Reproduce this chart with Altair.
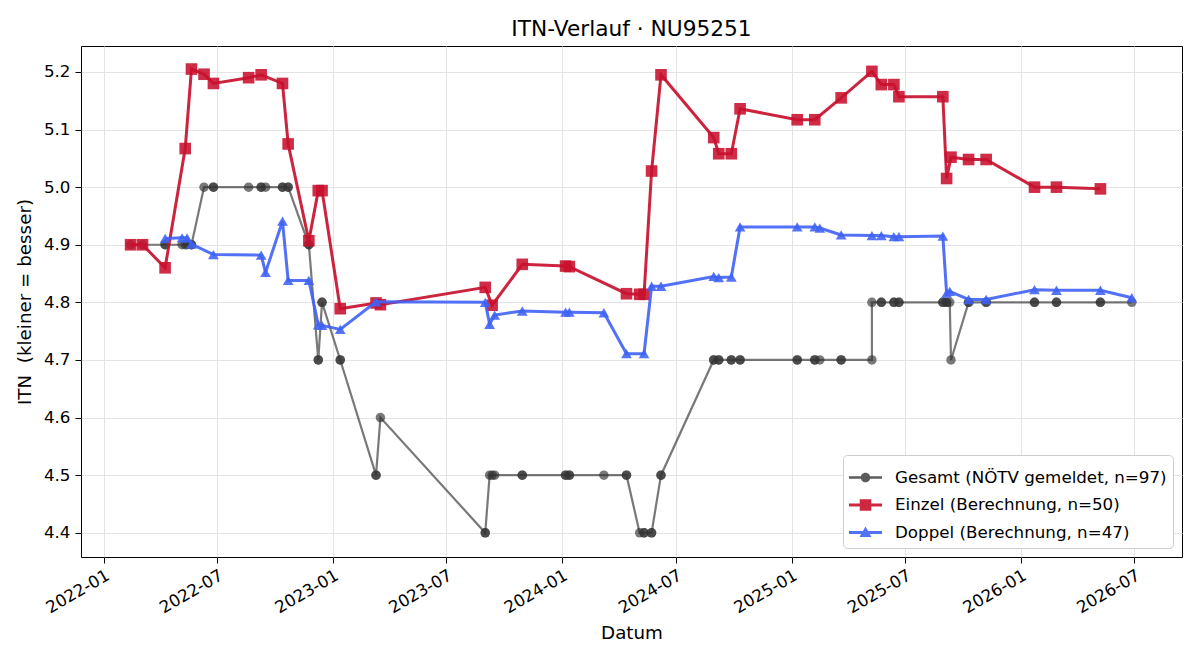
import altair as alt
import pandas as pd

# ---------------- data ----------------
einzel_dates = [
    "2022-02-13", "2022-03-04", "2022-04-09", "2022-05-11", "2022-05-21", "2022-06-10",
    "2022-06-25", "2022-08-20", "2022-09-09", "2022-10-13", "2022-10-22", "2022-11-24",
    "2022-12-09", "2022-12-15", "2023-01-13", "2023-03-11", "2023-03-18", "2023-09-01",
    "2023-09-12", "2023-10-30", "2024-01-07", "2024-01-13", "2024-04-13", "2024-05-04",
    "2024-05-11", "2024-05-23", "2024-06-07", "2024-08-30", "2024-09-07", "2024-09-27",
    "2024-10-11", "2025-01-10", "2025-02-07", "2025-03-21", "2025-05-09", "2025-05-24",
    "2025-06-13", "2025-06-21", "2025-08-30", "2025-09-05", "2025-09-12", "2025-10-10",
    "2025-11-07", "2026-01-23", "2026-02-27", "2026-05-08",
]
einzel_itn = [
    4.900, 4.900, 4.860, 5.067, 5.205, 5.196,
    5.180, 5.190, 5.195, 5.180, 5.075, 4.907,
    4.994, 4.994, 4.789, 4.799, 4.796, 4.826,
    4.795, 4.866, 4.863, 4.862, 4.815, 4.814,
    4.814, 5.028, 5.195, 5.086, 5.058, 5.058,
    5.136, 5.117, 5.117, 5.155, 5.201, 5.178,
    5.178, 5.157, 5.157, 5.015, 5.052, 5.048,
    5.048, 5.000, 5.000, 4.997,
]

doppel_dates = [
    "2022-04-09", "2022-05-06", "2022-05-14", "2022-05-21", "2022-06-25", "2022-09-09",
    "2022-09-16", "2022-10-13", "2022-10-22", "2022-11-24", "2022-12-09", "2022-12-15",
    "2023-01-13", "2023-03-11", "2023-09-01", "2023-09-08", "2023-09-16", "2023-10-30",
    "2024-01-07", "2024-01-13", "2024-03-08", "2024-04-13", "2024-05-11", "2024-05-23",
    "2024-06-07", "2024-08-30", "2024-09-07", "2024-09-27", "2024-10-11", "2025-01-10",
    "2025-02-07", "2025-02-15", "2025-03-21", "2025-05-09", "2025-05-24", "2025-06-13",
    "2025-06-21", "2025-08-30", "2025-09-05", "2025-09-10", "2025-10-10", "2025-11-07",
    "2026-01-23", "2026-02-27", "2026-05-08", "2026-06-27",
]
doppel_itn = [
    4.911, 4.912, 4.912, 4.901, 4.883, 4.882,
    4.852, 4.941, 4.838, 4.838, 4.761, 4.760,
    4.753, 4.801, 4.800, 4.762, 4.778, 4.785,
    4.783, 4.783, 4.782, 4.711, 4.711, 4.828,
    4.828, 4.845, 4.843, 4.844, 4.931, 4.931,
    4.931, 4.929, 4.917, 4.916, 4.916, 4.914,
    4.914, 4.915, 4.816, 4.819, 4.805, 4.805,
    4.822, 4.821, 4.821, 4.808,
]

gesamt_dates = [
    "2022-02-13", "2022-03-04", "2022-04-09", "2022-04-09", "2022-05-06", "2022-05-11",
    "2022-05-14", "2022-05-21", "2022-05-21", "2022-06-10", "2022-06-25", "2022-06-25",
    "2022-08-20", "2022-09-09", "2022-09-09", "2022-09-16", "2022-10-13", "2022-10-13",
    "2022-10-22", "2022-10-22", "2022-11-24", "2022-11-24", "2022-12-09", "2022-12-09",
    "2022-12-15", "2022-12-15", "2023-01-13", "2023-01-13", "2023-03-11", "2023-03-11",
    "2023-03-18", "2023-09-01", "2023-09-01", "2023-09-08", "2023-09-12", "2023-09-16",
    "2023-10-30", "2023-10-30", "2024-01-07", "2024-01-07", "2024-01-13", "2024-01-13",
    "2024-03-08", "2024-04-13", "2024-04-13", "2024-05-04", "2024-05-11", "2024-05-11",
    "2024-05-23", "2024-05-23", "2024-06-07", "2024-06-07", "2024-08-30", "2024-08-30",
    "2024-09-07", "2024-09-07", "2024-09-27", "2024-09-27", "2024-10-11", "2024-10-11",
    "2025-01-10", "2025-01-10", "2025-02-07", "2025-02-07", "2025-02-15", "2025-03-21",
    "2025-03-21", "2025-05-09", "2025-05-09", "2025-05-24", "2025-05-24", "2025-06-13",
    "2025-06-13", "2025-06-21", "2025-06-21", "2025-08-30", "2025-08-30", "2025-09-05",
    "2025-09-05", "2025-09-10", "2025-09-12", "2025-10-10", "2025-10-10", "2025-11-07",
    "2025-11-07", "2026-01-23", "2026-01-23", "2026-02-27", "2026-02-27", "2026-05-08",
    "2026-05-08", "2026-06-27",
]
gesamt_itn = [
    4.9, 4.9, 4.9, 4.9, 4.9, 4.9,
    4.9, 4.9, 4.9, 5.0, 5.0, 5.0,
    5.0, 5.0, 5.0, 5.0, 5.0, 5.0,
    5.0, 5.0, 4.9, 4.9, 4.7, 4.7,
    4.8, 4.8, 4.7, 4.7, 4.5, 4.5,
    4.6, 4.4, 4.4, 4.5, 4.5, 4.5,
    4.5, 4.5, 4.5, 4.5, 4.5, 4.5,
    4.5, 4.5, 4.5, 4.4, 4.4, 4.4,
    4.4, 4.4, 4.5, 4.5, 4.7, 4.7,
    4.7, 4.7, 4.7, 4.7, 4.7, 4.7,
    4.7, 4.7, 4.7, 4.7, 4.7, 4.7,
    4.7, 4.7, 4.8, 4.8, 4.8, 4.8,
    4.8, 4.8, 4.8, 4.8, 4.8, 4.8,
    4.8, 4.8, 4.7, 4.8, 4.8, 4.8,
    4.8, 4.8, 4.8, 4.8, 4.8, 4.8,
    4.8, 4.8,
]

series_names = [
    "Gesamt (NÖTV gemeldet, n=97)",
    "Einzel (Berechnung, n=50)",
    "Doppel (Berechnung, n=47)",
]
series_colors = ["#333333", "#C8102E", "#3F62F5"]
legend_colors = ["#4a4a4a", "#C8102E", "#3F62F5"]

x_tick_dates = [
    "2022-01-01", "2022-07-01", "2023-01-01", "2023-07-01", "2024-01-01",
    "2024-07-01", "2025-01-01", "2025-07-01", "2026-01-01", "2026-07-01",
]
x_domain = ["2021-11-26", "2026-09-15"]
y_ticks = [4.4, 4.5, 4.6, 4.7, 4.8, 4.9, 5.0, 5.1, 5.2]
y_domain = [4.358, 5.245]

FONT = "DejaVu Sans"
FS_TICK = 16.7
FS_LABEL = 18.3
FS_TITLE = 21.7


def dt(s):
    y, m, d = (int(v) for v in s.split("-"))
    return alt.DateTime(year=y, month=m, date=d, utc=True)


df_g = pd.DataFrame({"Datum": gesamt_dates, "ITN": gesamt_itn, "idx": list(range(len(gesamt_dates)))})
df_e = pd.DataFrame({"Datum": einzel_dates, "ITN": einzel_itn, "idx": list(range(len(einzel_dates)))})
df_d = pd.DataFrame({"Datum": doppel_dates, "ITN": doppel_itn, "idx": list(range(len(doppel_dates)))})
df_leg = pd.DataFrame({"Serie": series_names, "Datum": [gesamt_dates[0]] * 3, "ITN": [gesamt_itn[0]] * 3})

x_enc = alt.X(
    "Datum:T",
    scale=alt.Scale(type="utc", domain=[dt(x_domain[0]), dt(x_domain[1])], nice=False),
    axis=alt.Axis(
        values=[dt(s) for s in x_tick_dates],
        labelExpr="utcFormat(datum.value, '%Y-%m')",
        labelAngle=-30,
        labelAlign="right",
        labelBaseline="top",
        labelFlush=False,
        labelOverlap=False,
        labelPadding=4,
        labelFont=FONT,
        labelFontSize=FS_TICK,
        labelColor="black",
        tickSize=6,
        tickColor="black",
        tickWidth=1,
        domain=False,
        grid=True,
        gridColor="#e4e4e4",
        gridWidth=1,
        title="Datum",
        titleFont=FONT,
        titleFontSize=FS_LABEL,
        titleFontWeight="normal",
        titleColor="black",
        titleY=76,
        titleBaseline="middle",
    ),
)
y_enc = alt.Y(
    "ITN:Q",
    scale=alt.Scale(domain=y_domain, nice=False, zero=False),
    axis=alt.Axis(
        values=y_ticks,
        format=".1f",
        labelFont=FONT,
        labelFontSize=FS_TICK,
        labelColor="black",
        labelPadding=5,
        tickSize=6,
        tickColor="black",
        tickWidth=1,
        domain=False,
        grid=True,
        gridColor="#e4e4e4",
        gridWidth=1,
        title="ITN \u00a0(kleiner = besser)",
        titleFont=FONT,
        titleFontSize=FS_LABEL,
        titleFontWeight="normal",
        titleColor="black",
        titleX=-56,
        titleY=255.5,
        titleAlign="center",
        titleBaseline="middle",
    ),
)

g_line = alt.Chart(df_g).mark_line(color=series_colors[0], strokeWidth=2.2, opacity=0.66).encode(
    x=x_enc, y=y_enc, order="idx:Q")
g_pts = alt.Chart(df_g).mark_point(filled=True, shape="circle", size=90, color=series_colors[0],
                                    opacity=0.66, strokeWidth=0).encode(x=x_enc, y=y_enc)

e_line = alt.Chart(df_e).mark_line(color=series_colors[1], strokeWidth=3, opacity=0.92).encode(
    x=x_enc, y=y_enc, order="idx:Q")
e_pts = alt.Chart(df_e).mark_point(filled=True, shape="square", size=135, color=series_colors[1],
                                    opacity=0.88, strokeWidth=0).encode(x=x_enc, y=y_enc)

d_line = alt.Chart(df_d).mark_line(color=series_colors[2], strokeWidth=3, opacity=0.9).encode(
    x=x_enc, y=y_enc, order="idx:Q")
d_pts = alt.Chart(df_d).mark_point(filled=True, shape="triangle-up", size=115, color=series_colors[2],
                                    opacity=0.88, strokeWidth=0).encode(x=x_enc, y=y_enc)

legend_shapes = [
    "M-1,-0.07H1V0.07H-1Z M-0.29,0A0.29,0.29,0,1,1,0.29,0A0.29,0.29,0,1,1,-0.29,0Z",
    "M-1,-0.09H1V0.09H-1Z M-0.35,-0.35H0.35V0.35H-0.35Z",
    "M-1,-0.09H1V0.09H-1Z M0,-0.36L0.36,0.27H-0.36Z",
]
leg = alt.Chart(df_leg).transform_filter("false").mark_point(filled=True, opacity=0.9).encode(
    x=x_enc,
    y=y_enc,
    color=alt.Color(
        "Serie:N",
        scale=alt.Scale(domain=series_names, range=legend_colors),
        legend=alt.Legend(
            title=None,
            orient="bottom-right",
            offset=9,
            padding=6,
            labelFont=FONT,
            labelFontSize=FS_TICK,
            labelColor="black",
            labelOffset=13,
            labelLimit=400,
            symbolSize=1089,
            symbolStrokeWidth=0,
            rowPadding=1.5,
            fillColor="white",
            strokeColor="#cccccc",
            cornerRadius=4,
        ),
    ),
    shape=alt.Shape("Serie:N", scale=alt.Scale(domain=series_names, range=legend_shapes)),
)

chart = (
    alt.layer(g_line, g_pts, e_line, e_pts, d_line, d_pts, leg)
    .properties(
        width=1101,
        height=511,
        autosize=alt.AutoSizeParams(type="none"),
        padding={"left": 81, "top": 46, "right": 18, "bottom": 103},
        title=alt.Title("ITN-Verlauf · NU95251", font=FONT, fontSize=FS_TITLE, fontWeight="normal",
                        color="black", anchor="middle", offset=5),
        background="white",
    )
    .configure_view(stroke="black", strokeWidth=1)
)

chart.save("out.html", embed_options={"renderer": "svg", "actions": False})
